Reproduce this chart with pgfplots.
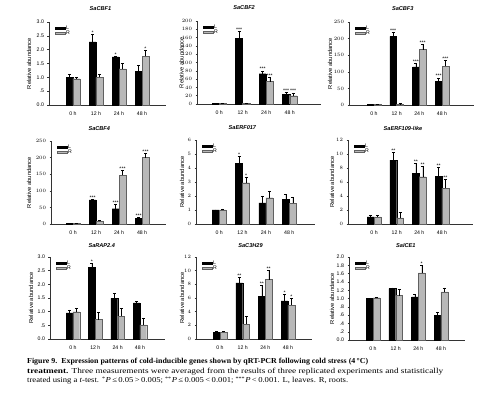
\documentclass[border=0pt]{standalone}
\usepackage{pgfplots}
\pgfplotsset{compat=1.18}
\usepackage{pgfplotstable}
\usepackage{graphicx}
\usepackage{fontspec}
\setmainfont{Liberation Serif}
\newfontfamily\arial{Liberation Sans}
\newcommand\tikfont{\arial\fontsize{5.2}{6}\selectfont}
\newcommand\labfont{\arial\fontsize{5.8}{6}\selectfont}
\newcommand\titfont{\arial\bfseries\itshape\fontsize{5.6}{6}\selectfont}
\definecolor{rfill}{HTML}{B8B8B8}
\definecolor{rdraw}{HTML}{606060}

\pgfplotsset{
 panel/.style={
  scale only axis, anchor=south west, clip=false,
  axis x line=bottom, axis y line=left,
  axis line style={-, line width=0.4pt, black!80},
  ymin=0, xtick={0,1,2,3}, xticklabels={0 h,12 h,24 h,48 h},
  x tick style={draw=none}, y tick style={line width=0.4pt, black!80},
  tick align=outside, major tick length=1.5pt,
  ticklabel style={font=\tikfont},
  xticklabel style={yshift=-1.5pt},
  ylabel={Relative abundance},
  ylabel style={font=\labfont},
  title style={font=\titfont, anchor=center},
  legend style={draw=none, fill=none, at={(0,1)}, anchor=north west,
    xshift=6pt, yshift=-3pt, font=\tikfont, legend cell align=left,
    row sep=-1.5pt, inner sep=0pt, nodes={inner sep=0.6pt}},
 },
 Lbar/.style={ybar, bar width=0.3, bar shift=0pt, fill=black, draw=black, line width=0.3pt,
   legend image code/.code={\draw[##1] (0pt,-1.1pt) rectangle (10pt,1.1pt);},
   error bars/.cd, y dir=plus, y explicit,
   error bar style={line width=0.4pt, black},
   error mark options={rotate=90, mark size=1.5pt, line width=0.4pt, black}},
 Rbar/.style={ybar, bar width=0.3, bar shift=0pt, fill=rfill, draw=rdraw, line width=0.3pt,
   legend image code/.code={\draw[##1] (0pt,-1.1pt) rectangle (10pt,1.1pt);},
   error bars/.cd, y dir=plus, y explicit,
   error bar style={line width=0.4pt, black},
   error mark options={rotate=90, mark size=1.5pt, line width=0.4pt, black}},
 stars/.style={draw=none, mark=none, forget plot, nodes near coords,
   point meta=explicit symbolic,
   nodes near coords style={font=\tikfont, anchor=south, inner sep=0.8pt, yshift=-1.2pt}},
}

\pgfplotstableread{
g L Le R Re
0 1.00 0.12 0.95 0.06
1 2.28 0.29 1.00 0.10
2 1.74 0.03 1.31 0.20
3 1.22 0.22 1.76 0.21
}\tA
\pgfplotstableread{
g L Le R Re
0 1.0 0.5 1.0 0.5
1 158 18 2 1
2 73 7 54 11
3 24 4 20 7
}\tB
\pgfplotstableread{
g L Le R Re
0 2 1 2 1
1 207 13 3 1
2 115 12 167 16
3 72 10 117 18
}\tC
\pgfplotstableread{
g L Le R Re
0 2 0.5 2 0.5
1 73 2 9 2
2 46 13 147 15
3 17 3 200 12
}\tD
\pgfplotstableread{
g L Le R Re
0 1.00 0.02 1.00 0.08
1 4.33 0.50 2.95 0.41
2 1.50 0.50 1.88 0.48
3 1.76 0.38 1.48 0.45
}\tE
\pgfplotstableread{
g L Le R Re
0 1.00 0.25 1.00 0.25
1 9.14 1.10 0.86 0.80
2 7.24 1.43 6.76 1.43
3 6.81 1.33 5.10 1.28
}\tF
\pgfplotstableread{
g L Le R Re
0 0.96 0.11 1.00 0.13
1 2.62 0.16 0.71 0.27
2 1.49 0.19 0.84 0.29
3 1.32 0.07 0.52 0.25
}\tG
\pgfplotstableread{
g L Le R Re
0 0.97 0.20 1.00 0.15
1 8.20 0.78 2.18 1.17
2 6.26 1.60 8.69 1.36
3 5.58 0.92 4.95 0.97
}\tH
\pgfplotstableread{
g L Le R Re
0 1.00 0.00 1.02 0.01
1 1.24 0.02 1.07 0.15
2 1.04 0.06 1.62 0.18
3 0.60 0.08 1.16 0.10
}\tI

\newcommand\bars[1]{%
 \addplot[Lbar] table[x expr=\thisrow{g}-0.15, y=L, y error=Le] {#1};
 \addplot[Rbar] table[x expr=\thisrow{g}+0.15, y=R, y error=Re] {#1};
 \legend{L,R}}

\begin{document}
\begin{tikzpicture}
\path[use as bounding box] (0pt,0pt) rectangle (483pt,400pt);

% Row 1
\begin{axis}[panel, at={(49pt,295pt)}, width=117pt, height=83pt,
  xmin=-1.04, xmax=4.04, ymax=3, ytick={0,0.5,...,3},
  yticklabels={0.0,.5,1.0,1.5,2.0,2.5,3.0},
  ylabel style={at={(axis description cs:-0.171,0.5)}, anchor=center},
  title={SaCBF1}, title style={at={(axis description cs:0.44,1)}, yshift=7pt}]
 \bars{\tA}
 \addplot[stars] coordinates {(0.85,2.57) [*] (1.85,1.77) [*] (3.15,1.97) [*]};
\end{axis}

\begin{axis}[panel, at={(197pt,296pt)}, width=124pt, height=83pt,
  xmin=-0.94, xmax=4.33, ymax=200, ytick={0,20,...,200},
  ylabel style={at={(axis description cs:-0.125,0.5)}, anchor=center},
  title={SaCBF2}, title style={at={(axis description cs:0.38,1)}, yshift=7pt}]
 \bars{\tB}
 \addplot[stars] coordinates {(0.85,176) [***] (1.85,80) [***] (2.15,65) [***] (2.85,28) [***] (3.15,27) [***]};
\end{axis}

\begin{axis}[panel, at={(349pt,295pt)}, width=125pt, height=83pt,
  xmin=-1.1, xmax=4.41, ymax=250, ytick={0,50,...,250},
  ylabel style={at={(axis description cs:-0.152,0.5)}, anchor=center},
  title={SaCBF3}, title style={at={(axis description cs:0.43,1)}, yshift=7pt}]
 \bars{\tC}
 \addplot[stars] coordinates {(0.85,220) [***] (1.85,127) [***] (2.15,183) [***] (2.85,82) [***] (3.15,135) [***]};
\end{axis}

% Row 2
\begin{axis}[panel, at={(51pt,176pt)}, width=115pt, height=83pt,
  xmin=-0.96, xmax=4.04, ymax=250, ytick={0,50,...,250},
  ylabel style={at={(axis description cs:-0.191,0.5)}, anchor=center},
  title={SaCBF4}, title style={at={(axis description cs:0.42,1)}, yshift=6pt}]
 \bars{\tD}
 \addplot[stars] coordinates {(0.85,75) [***] (1.85,59) [***] (2.15,162) [***] (2.85,20) [***] (3.15,212) [***]};
\end{axis}

\begin{axis}[panel, at={(196pt,176pt)}, width=119pt, height=84pt,
  xmin=-0.99, xmax=4.1, ymax=6, ytick={0,1,...,6},
  ylabel style={at={(axis description cs:-0.118,0.5)}, anchor=center},
  title={SaERF017}, title style={at={(axis description cs:0.39,1)}, yshift=6pt}]
 \bars{\tE}
 \addplot[stars] coordinates {(0.85,4.83) [*] (1.15,3.36) [*]};
\end{axis}

\begin{axis}[panel, at={(348pt,176pt)}, width=125pt, height=84pt,
  xmin=-1.15, xmax=4.37, ymax=12, ytick={0,2,...,12},
  ylabel style={at={(axis description cs:-0.128,0.5)}, anchor=center},
  title={SaERF109-like}, title style={at={(axis description cs:0.44,1)}, yshift=6pt}]
 \bars{\tF}
 \addplot[stars] coordinates {(0.85,10.24) [**] (1.85,8.67) [**] (2.15,8.19) [**] (2.85,8.14) [**] (3.15,6.38) [**]};
\end{axis}

% Row 3
\begin{axis}[panel, at={(50pt,61pt)}, width=115pt, height=82pt,
  xmin=-1.03, xmax=4.12, ymax=3, ytick={0,0.5,...,3},
  yticklabels={0.0,.5,1.0,1.5,2.0,2.5,3.0},
  ylabel style={at={(axis description cs:-0.165,0.5)}, anchor=center},
  title={SaRAP2.4}, title style={at={(axis description cs:0.45,1)}, yshift=5pt}]
 \bars{\tG}
 \addplot[stars] coordinates {(0.85,2.78) [*]};
\end{axis}

\begin{axis}[panel, at={(196pt,61pt)}, width=116pt, height=82pt,
  xmin=-1.06, xmax=4.06, ymax=12, ytick={0,2,...,12},
  ylabel style={at={(axis description cs:-0.121,0.5)}, anchor=center},
  title={SaC3H29}, title style={at={(axis description cs:0.47,1)}, yshift=5pt}]
 \bars{\tH}
 \addplot[stars] coordinates {(0.85,8.98) [**] (1.85,7.86) [**] (2.15,10.05) [**] (2.85,6.5) [*] (3.15,5.92) [*]};
\end{axis}

\begin{axis}[panel, at={(349pt,60pt)}, width=116pt, height=83pt,
  xmin=-1.06, xmax=4.06, ymax=2, ytick={0,0.2,...,2.01},
  yticklabels={0.0,.2,.4,.6,.8,1.0,1.2,1.4,1.6,1.8,2.0},
  ylabel style={at={(axis description cs:-0.147,0.5)}, anchor=center},
  title={SaICE1}, title style={at={(axis description cs:0.49,1)}, yshift=5pt}]
 \bars{\tI}
 \addplot[stars] coordinates {(2.15,1.8) [*]};
\end{axis}

% Caption
\node[anchor=base west, inner sep=0pt] at (27pt,37pt) {\resizebox{341pt}{\height}{\fontsize{7.6}{10}\selectfont\bfseries Figure 9.\ \ Expression patterns of cold-inducible genes shown by qRT-PCR following cold stress (4\,°C)}};
\node[anchor=base west, inner sep=0pt] at (27pt,27pt) {\resizebox{416pt}{\height}{\fontsize{7.6}{10}\selectfont\textbf{treatment.} Three measurements were averaged from the results of three replicated experiments and statistically}};
\node[anchor=base west, inner sep=0pt] at (27pt,17pt) {\resizebox{321pt}{\height}{\fontsize{7.6}{10}\selectfont treated using a \textit{t}-test. \textsuperscript{*}\textit{P}\,≤\,0.05\,>\,0.005; \textsuperscript{**}\textit{P}\,≤\,0.005\,<\,0.001; \textsuperscript{***}\textit{P}\,<\,0.001. L, leaves. R, roots.}};
\end{tikzpicture}
\end{document}
